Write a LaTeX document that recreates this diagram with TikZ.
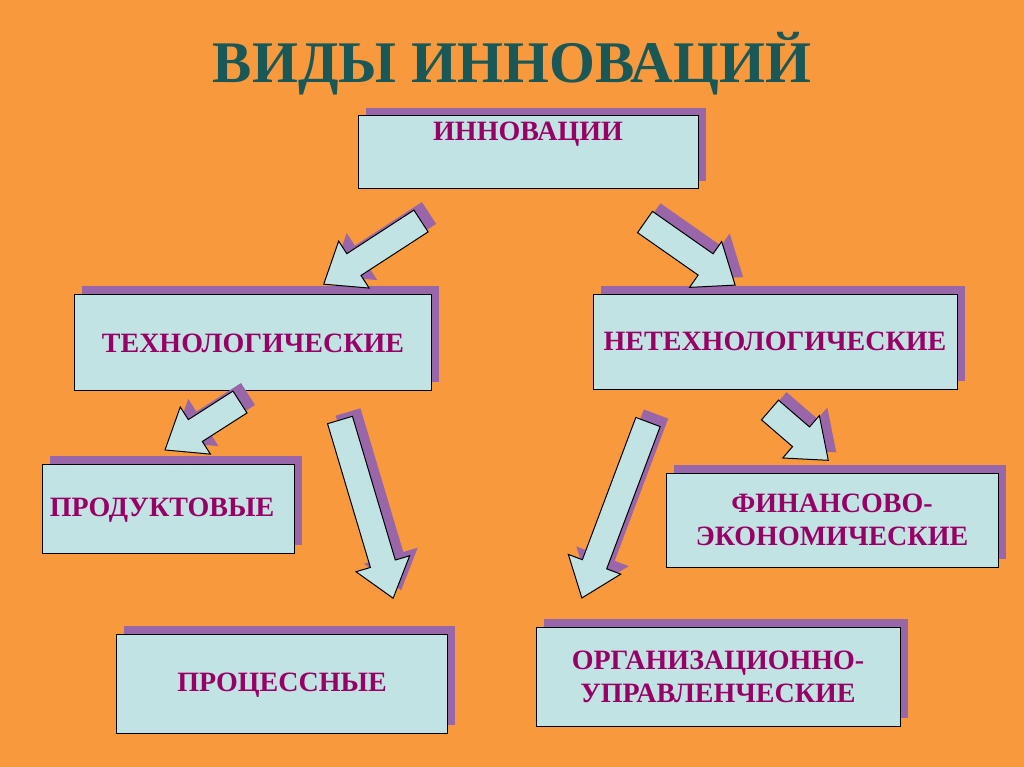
\documentclass[tikz,border=0pt]{standalone}
\usepackage{fontspec}
\setmainfont{Liberation Serif}
\definecolor{bg}{HTML}{F7993C}
\definecolor{boxc}{HTML}{C2E3E3}
\definecolor{shad}{HTML}{9966AA}
\definecolor{txt}{HTML}{990066}
\definecolor{ttl}{HTML}{1A5858}
\tikzset{
  boxsty/.style={draw=black,fill=boxc,line width=1pt},
  shsty/.style={fill=shad},
  lbl/.style={text=txt,font=\bfseries\fontsize{28}{33}\selectfont,align=center},
}
\newcommand\boxx[5]{% name x1 y1 x2 y2
  \fill[shsty] (#2+8,-#3+8) rectangle (#4+8,-#5+8);
  \draw[boxsty] (#2,-#3) rectangle (#4,-#5);
  \coordinate (#1) at ({(#2+#4)/2},{-(#3+#5)/2});
}
\newcommand\barr[4]{% x y angle length
  \begin{scope}[shift={(#1+8,-#2+8)},rotate=#3]
    \fill[shsty] (0,-13) -- (#4-36,-13) -- (#4-36,-28) -- (#4,0) -- (#4-36,28) -- (#4-36,13) -- (0,13) -- cycle;
  \end{scope}
  \begin{scope}[shift={(#1,-#2)},rotate=#3]
    \draw[boxsty,line join=miter] (0,-13) -- (#4-36,-13) -- (#4-36,-28) -- (#4,0) -- (#4-36,28) -- (#4-36,13) -- (0,13) -- cycle;
  \end{scope}
}
\begin{document}
\begin{tikzpicture}[x=1pt,y=1pt]
\fill[bg] (0,0) rectangle (1024,-767);
\useasboundingbox (0,0) rectangle (1024,-767);
\node[text=ttl,font=\bfseries\fontsize{59}{70}\selectfont] (title) at (512,-64) {ВИДЫ ИННОВАЦИЙ};
\boxx{b1}{358}{116}{698}{189}
\boxx{b2}{74}{294}{431}{390}
\boxx{b3}{593}{294}{957}{389}
\boxx{b4}{42}{464}{294}{553}
\boxx{b5}{666}{473}{998}{567}
\boxx{b6}{116}{634}{447}{733}
\boxx{b7}{536}{627}{900}{726}
\node[lbl] (t1) at (528,-134) {ИННОВАЦИИ};
\node[lbl] (t2) at (253,-343) {ТЕХНОЛОГИЧЕСКИЕ};
\node[lbl] (t3) at (775,-341) {НЕТЕХНОЛОГИЧЕСКИЕ};
\node[lbl] (t4) at (162,-510) {ПРОДУКТОВЫЕ};
\node[lbl] (t5) at (832,-520) {ФИНАНСОВО-\\ЭКОНОМИЧЕСКИЕ};
\node[lbl] (t6) at (282,-685) {ПРОЦЕССНЫЕ};
\node[lbl] (t7) at (718,-677) {ОРГАНИЗАЦИОННО-\\УПРАВЛЕНЧЕСКИЕ};
\barr{421}{221}{213}{116}
\barr{645}{222}{-35}{110}
\barr{240}{402}{212.6}{89}
\barr{340}{420}{-73.4}{186}
\barr{648}{422}{249.4}{188}
\barr{770}{410}{-40.8}{77}
\end{tikzpicture}
\end{document}
